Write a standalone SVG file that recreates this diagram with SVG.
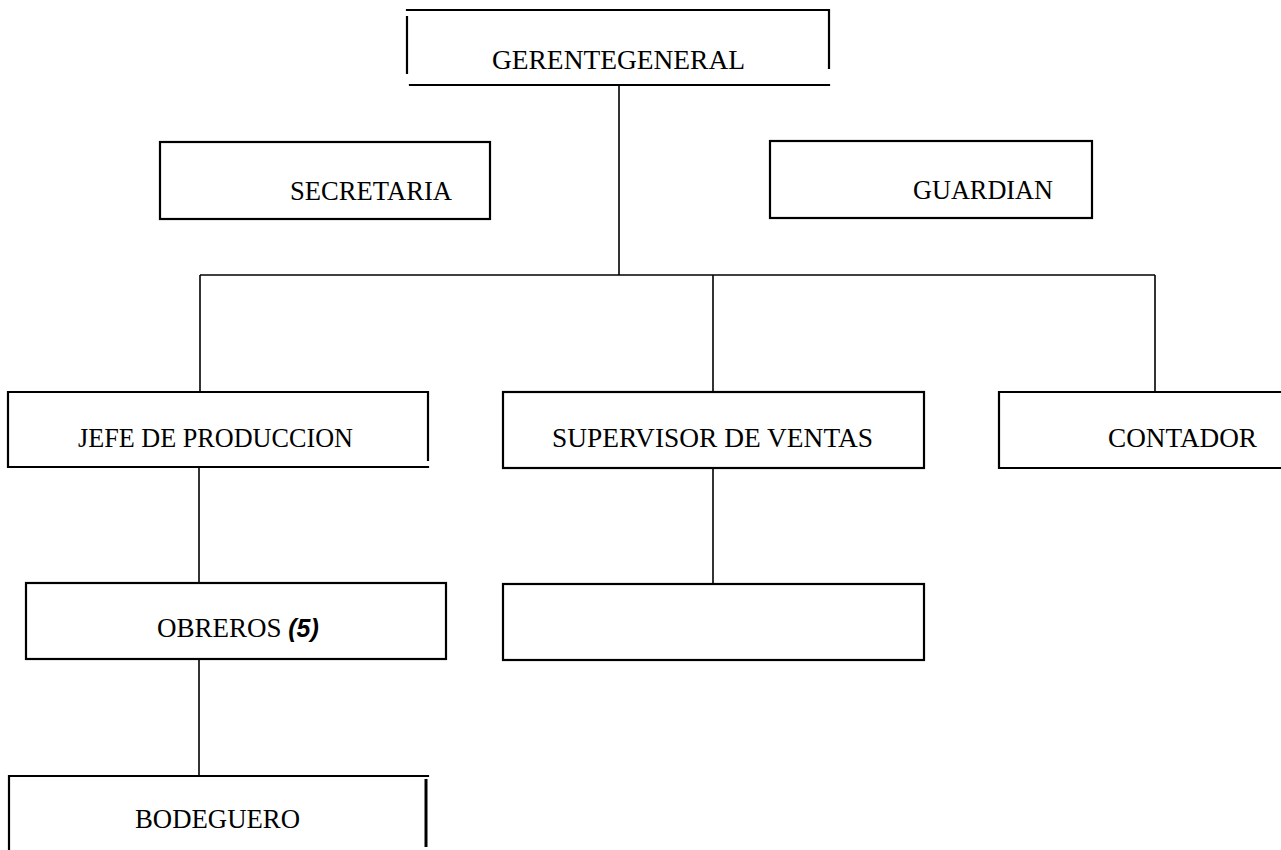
<svg xmlns="http://www.w3.org/2000/svg" width="1281" height="850" viewBox="0 0 1281 850">
<style>
.b{stroke:#000;stroke-width:2.2;fill:none;stroke-linecap:square}
.c{stroke:#000;stroke-width:1.6;fill:none}
.t{font-family:"Liberation Serif","Times New Roman",serif;font-size:27px;fill:#000}
.bi{font-family:"Liberation Sans",Arial,sans-serif;font-weight:bold;font-style:italic;font-size:25px}
</style>
<rect width="1281" height="850" fill="#fff"/>
<g id="connectors">
<line class="c" x1="619" y1="85" x2="619" y2="275"/>
<line class="c" x1="200" y1="275" x2="1155" y2="275"/>
<line class="c" x1="200" y1="275" x2="200" y2="392"/>
<line class="c" x1="713" y1="275" x2="713" y2="392"/>
<line class="c" x1="1155" y1="275" x2="1155" y2="392"/>
<line class="c" x1="199" y1="467" x2="199" y2="583"/>
<line class="c" x1="713" y1="468" x2="713" y2="584"/>
<line class="c" x1="199" y1="659" x2="199" y2="776"/>
</g>
<g id="gerente">
<path class="b" d="M407,10 H829 V68 M407,17 V73 M410,85 H829"/>
<text class="t" x="492" y="69" textLength="253" lengthAdjust="spacingAndGlyphs">GERENTEGENERAL</text>
</g>
<g id="secretaria">
<rect class="b" x="160" y="142" width="330" height="77"/>
<text class="t" x="290" y="200" textLength="162" lengthAdjust="spacingAndGlyphs">SECRETARIA</text>
</g>
<g id="guardian">
<rect class="b" x="770" y="141" width="322" height="77"/>
<text class="t" x="913" y="199" textLength="140" lengthAdjust="spacingAndGlyphs">GUARDIAN</text>
</g>
<g id="jefe">
<path class="b" d="M8,467 V392 H428 V460 M8,467 H428"/>
<text class="t" x="78" y="447" textLength="275" lengthAdjust="spacingAndGlyphs">JEFE DE PRODUCCION</text>
</g>
<g id="supervisor">
<rect class="b" x="503" y="392" width="421" height="76"/>
<text class="t" x="552" y="447" textLength="321" lengthAdjust="spacingAndGlyphs">SUPERVISOR DE VENTAS</text>
</g>
<g id="contador">
<path class="b" d="M1282,392 H999 V468 H1282"/>
<text class="t" x="1108" y="447" textLength="149" lengthAdjust="spacingAndGlyphs">CONTADOR</text>
</g>
<g id="obreros">
<rect class="b" x="26" y="583" width="420" height="76"/>
<text class="t" x="157" y="637">OBREROS <tspan class="bi">(5)</tspan></text>
</g>
<g id="vacante">
<rect class="b" x="503" y="584" width="421" height="76"/>
</g>
<g id="bodeguero">
<path class="b" d="M9,852 V776 H428"/>
<line x1="426" y1="779" x2="426" y2="847" stroke="#000" stroke-width="3"/>
<text class="t" x="135" y="828" textLength="165" lengthAdjust="spacingAndGlyphs">BODEGUERO</text>
</g>
</svg>
